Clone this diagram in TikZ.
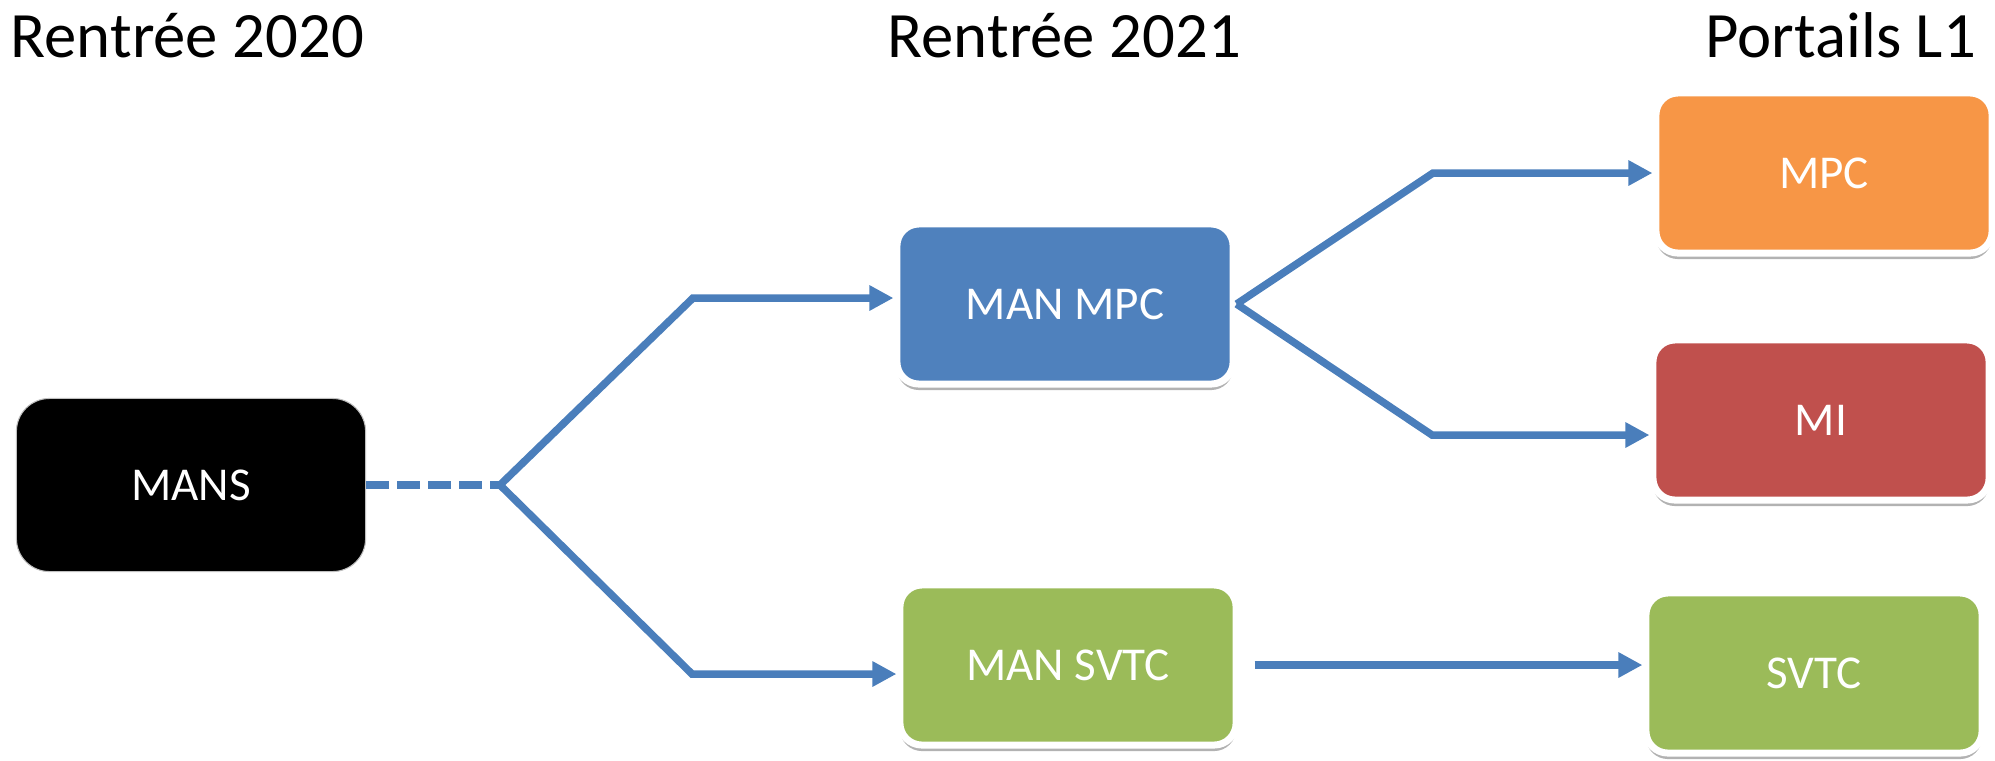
\documentclass[tikz,border=0pt]{standalone}
\usepackage{fontspec}
\setmainfont{Carlito}
\usepackage{tikz}
\usetikzlibrary{arrows.meta,positioning,shadows}

\definecolor{manblue}{HTML}{4F81BD}
\definecolor{mpcorange}{HTML}{F79646}
\definecolor{mired}{HTML}{C0504D}
\definecolor{svgreen}{HTML}{9BBB59}
\definecolor{linkblue}{HTML}{4A7EBB}

\begin{document}
\begin{tikzpicture}
		[x=0.01cm,y=-0.01cm,
		title node/.style={anchor=base west,inner sep=0pt,font=\fontsize{18.4pt}{22pt}\selectfont},
		box node/.style={rectangle,rounded corners=0.22cm,minimum width=3.36cm,minimum height=1.6cm,
			draw=white,line width=0.07cm,text=white,font=\fontsize{13.4pt}{16pt}\selectfont,
			drop shadow={shadow xshift=0pt,shadow yshift=-0.06cm,opacity=0.3,fill=black}},
		link/.style={draw=linkblue,line width=0.075cm,line join=miter},
		tip/.style={-{Triangle[length=0.24cm,width=0.24cm]}}]
		\useasboundingbox (0,0) rectangle (1995,760);
		
		\node[title node] (t1) at (10,57) {Rentrée 2020};
		\node[title node] (t2) at (887,57) {Rentrée 2021};
		\node[title node] (t3) at (1705,57) {Portails L1};
		
		\node[rectangle,rounded corners=0.33cm,minimum width=3.49cm,minimum height=1.73cm,
			fill=black,draw=black!25,line width=0.3pt,text=white,
			font=\fontsize{13.4pt}{16pt}\selectfont] (mans) at (191,485) {MANS};
		
		\node[box node,fill=manblue] (manmpc) at (1065,304) {MAN MPC};
		\node[box node,fill=svgreen] (mansvtc) at (1068,665) {MAN SVTC};
		
		\node[box node,fill=mpcorange] (mpc) at (1824,173) {MPC};
		\node[box node,fill=mired] (mi) at (1821,420) {MI};
		\node[box node,fill=svgreen] (svtc) at (1814,673) {SVTC};
		
		\coordinate (split) at (500,485);
		\coordinate (up) at (693,298);
		\coordinate (down) at (692,674);
		\coordinate (upr) at (1433,173);
		\coordinate (downr) at (1432,435);
		
		\draw[link,dash pattern=on 0.23cm off 0.08cm] (mans.east) -- (split);
		\draw[link,tip] (split) -- (up) -- (up -| manmpc.west);
		\draw[link,tip] (split) -- (down) -- (down -| mansvtc.west);
		\draw[link,tip] (manmpc.east) -- (upr) -- (upr -| mpc.west);
		\draw[link,tip] (manmpc.east) -- (downr) -- (downr -| mi.west);
		\draw[link,tip] ([xshift=0.15cm]mansvtc.east) -- (mansvtc.east -| svtc.west);
		
		\end{tikzpicture}
\end{document}
